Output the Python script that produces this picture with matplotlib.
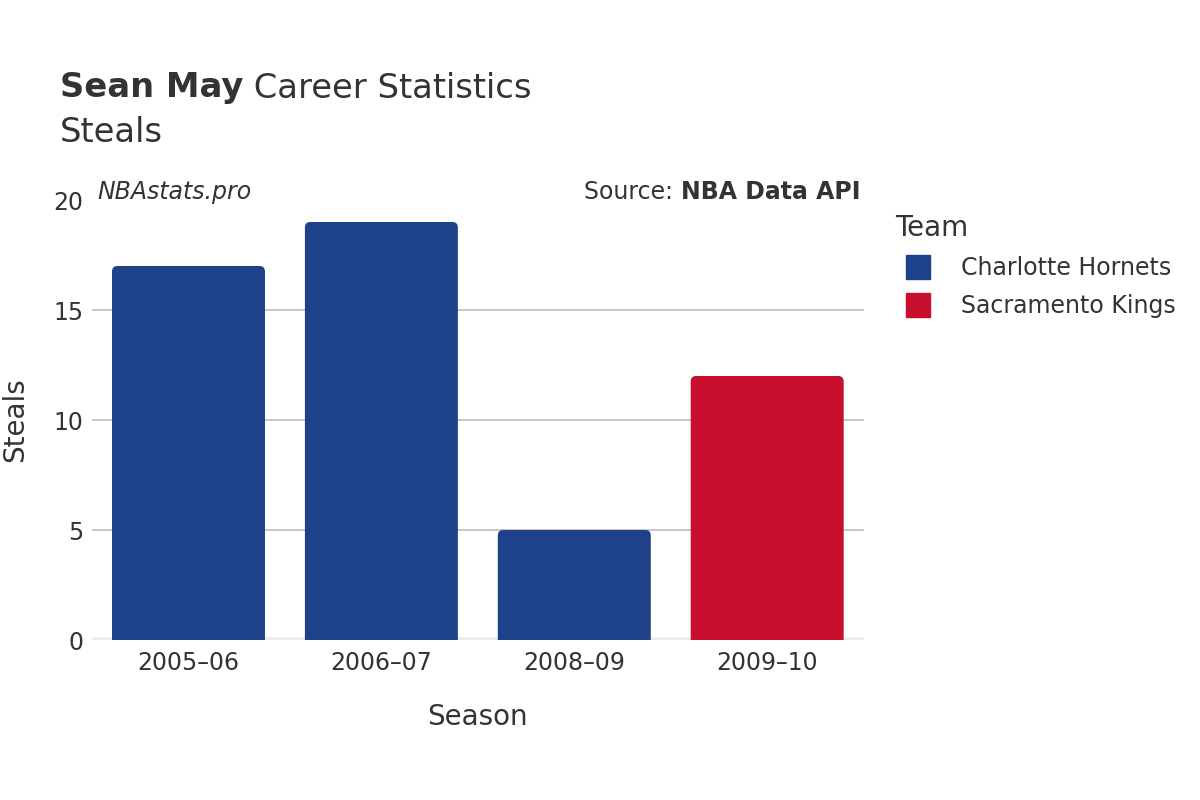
import matplotlib.pyplot as plt
from matplotlib.patches import PathPatch
from matplotlib.path import Path
from matplotlib.lines import Line2D

# Data
seasons = ["2005\u201306", "2006\u201307", "2008\u201309", "2009\u201310"]
steals = [17, 19, 5, 12]
teams = ["Charlotte Hornets", "Charlotte Hornets", "Charlotte Hornets", "Sacramento Kings"]
team_colors = {"Charlotte Hornets": "#1d428a", "Sacramento Kings": "#c8102e"}

text_color = "#333333"

fig = plt.figure(figsize=(12, 8), dpi=100)
ax = fig.add_axes([0.0767, 0.2, 0.643, 0.55])


def top_rounded_bar(ax, x0, w, h, rx, ry, color):
    # rectangle with rounded top corners (quadratic bezier)
    verts = [(x0, 0), (x0, h - ry), (x0, h), (x0 + rx, h),
             (x0 + w - rx, h), (x0 + w, h), (x0 + w, h - ry),
             (x0 + w, 0), (x0, 0)]
    codes = [Path.MOVETO, Path.LINETO, Path.CURVE3, Path.CURVE3,
             Path.LINETO, Path.CURVE3, Path.CURVE3,
             Path.LINETO, Path.CLOSEPOLY]
    ax.add_patch(PathPatch(Path(verts, codes), facecolor=color,
                           edgecolor="none", zorder=3))


x = list(range(len(seasons)))
w = 0.793
for xi, val, team in zip(x, steals, teams):
    top_rounded_bar(ax, xi - w / 2, w, val, 0.028, 0.25, team_colors[team])

ax.set_xlim(-0.5, 3.5)
ax.set_ylim(0, 20)

# Grid
for yv in [5, 10, 15]:
    ax.axhline(yv, color="#bfbfbf", lw=1.2, zorder=1)
ax.axhline(0, color="#ebebf0", lw=4, zorder=2)

for s in ax.spines.values():
    s.set_visible(False)
ax.set_xticks(x)
ax.set_xticklabels(seasons)
ax.set_yticks([0, 5, 10, 15, 20])
ax.tick_params(axis="both", length=0, labelsize=17, colors=text_color)
ax.tick_params(axis="x", pad=8)
ax.tick_params(axis="y", pad=6)

ax.set_xlabel("Season", fontsize=20, color=text_color, labelpad=20)
ax.set_ylabel("Steals", fontsize=20, color=text_color)
ax.yaxis.set_label_coords(-0.082, 0.5)

# Titles
t_name = fig.text(0.05, 0.89, "Sean May", fontsize=24.3, fontweight="bold", color=text_color, va="center")
t_rest = fig.text(0.2, 0.89, " Career Statistics", fontsize=24.3, color=text_color, va="center")
fig.text(0.05, 0.835, "Steals", fontsize=24.3, color=text_color, va="center")

fig.text(0.081, 0.76, "NBAstats.pro", fontsize=17, style="italic", color=text_color, va="center")
t_src = fig.text(0.6, 0.76, "Source: ", fontsize=17, color=text_color, va="center", ha="right")
t_api = fig.text(0.717, 0.76, "NBA Data API", fontsize=17, fontweight="bold", color=text_color,
                 va="center", ha="right")

# Legend
handles = [Line2D([0], [0], marker="s", color="none", markerfacecolor=team_colors[t],
                  markeredgecolor=team_colors[t], markersize=17, label=t)
           for t in ["Charlotte Hornets", "Sacramento Kings"]]
leg = fig.legend(handles=handles, title="Team", loc="upper left",
                 bbox_to_anchor=(0.728, 0.759), frameon=False, fontsize=17,
                 title_fontsize=20, labelspacing=0.6, handletextpad=0.8)
leg._legend_box.align = "left"
for t in leg.get_texts():
    t.set_color(text_color)
leg.get_title().set_color(text_color)

fig.canvas.draw()
r = fig.canvas.get_renderer()
bb = t_api.get_window_extent(r)
t_src.set_position((bb.x0 / fig.bbox.width, 0.76))
bb2 = t_name.get_window_extent(r)
t_rest.set_position((bb2.x1 / fig.bbox.width, 0.89))

fig.savefig("out.png", dpi=100)
